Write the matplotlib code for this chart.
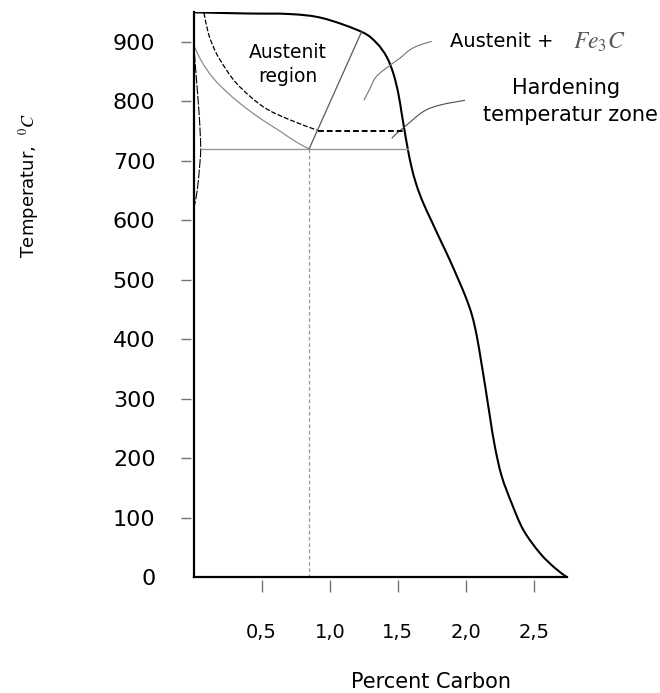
import matplotlib
matplotlib.use("Agg")
import matplotlib.pyplot as plt
from matplotlib.path import Path
from matplotlib.patches import PathPatch

plt.rcParams['font.family'] = ['DejaVu Sans']
plt.rcParams['mathtext.fontset'] = 'stix'

W, H = 660, 693

# outer boundary curve (percent carbon, temperature)
main_c = [0, 0.39, 0.71, 0.95, 1.235, 1.345, 1.418, 1.467, 1.503, 1.528, 1.550,
          1.573, 1.600, 1.636, 1.685, 1.745, 1.812, 1.880, 1.945, 2.000, 2.045,
          2.080, 2.110, 2.142, 2.176, 2.212, 2.262, 2.336, 2.422, 2.544, 2.654, 2.740]
main_t = [950, 948, 947, 940, 917, 898, 875, 847, 814, 780, 750,
          720, 690, 660, 630, 600, 567, 534, 500, 470, 440,
          405, 365, 320, 270, 220, 170, 124, 79, 40, 15, 0]

# A3 line (grey) down to eutectoid point
a3_c = [0.0, 0.06, 0.145, 0.267, 0.39, 0.512, 0.635, 0.745, 0.848]
a3_t = [895, 867, 839, 811, 788, 768, 750, 733, 720]

# upper dashed curve
dash_c = [0.076, 0.108, 0.145, 0.194, 0.317, 0.512, 0.708, 0.904]
dash_t = [949, 915, 892, 870, 830, 791, 769, 752]

# hardening temperature line
hard_c = [0.915, 1.553]
hard_t = [750, 750]

# A1 line and eutectoid lines
a1_c = [0.052, 1.573]
a1_t = [720, 720]
eut_c = [0.848, 1.235]
eut_t = [720, 918]
vert_c = [0.848, 0.848]
vert_t = [720, 0]

# small line close to the temperature axis
left_c = [0.0, 0.023, 0.042, 0.052, 0.042, 0.027, 0.01, 0.003]
left_t = [898, 831, 774, 721, 685, 651, 629, 622]

# leader lines of the labels
lead1_c = [1.251, 1.296, 1.342, 1.443, 1.516, 1.589, 1.662, 1.749]
lead1_t = [802, 822, 842, 861, 873, 887, 895, 901]
lead2_c = [1.455, 1.49, 1.553, 1.687, 1.81, 1.993]
lead2_t = [738, 746, 758, 783, 794, 802]

x_ticks = [0.5, 1.0, 1.5, 2.0, 2.5]
x_labels = ['0,5', '1,0', '1,5', '2,0', '2,5']
y_ticks = [0, 100, 200, 300, 400, 500, 600, 700, 800, 900]


def smooth(xs, ys):
    # bezier path through the read points (catmull-rom tangents)
    p = list(zip(xs, ys))
    verts = [p[0]]
    codes = [Path.MOVETO]
    for i in range(len(p) - 1):
        p0 = p[i - 1] if i > 0 else p[i]
        p1, p2 = p[i], p[i + 1]
        p3 = p[i + 2] if i + 2 < len(p) else p[i + 1]
        c1 = (p1[0] + (p2[0] - p0[0]) / 6, p1[1] + (p2[1] - p0[1]) / 6)
        c2 = (p2[0] - (p3[0] - p1[0]) / 6, p2[1] - (p3[1] - p1[1]) / 6)
        verts += [c1, c2, p2]
        codes += [Path.CURVE4] * 3
    return Path(verts, codes)


def curve(ax, xs, ys, **kw):
    ax.add_patch(PathPatch(smooth(xs, ys), fill=False, **kw))


fig = plt.figure(figsize=(W / 100, H / 100), dpi=100)
ax = fig.add_axes([193.6 / W, 1 - 577 / H, (566.7 - 193.6) / W, (577 - 12.3) / H])

curve(ax, main_c, main_t, edgecolor='black', lw=1.5)
curve(ax, a3_c, a3_t, edgecolor='0.55', lw=0.9)
curve(ax, dash_c, dash_t, edgecolor='black', lw=0.9, linestyle=(0, (4, 1.5)))
ax.plot(hard_c, hard_t, color='black', lw=1.4, dashes=(3, 1.5))
ax.plot(a1_c, a1_t, color='0.6', lw=1.0)
ax.plot(eut_c, eut_t, color='0.35', lw=0.9)
ax.plot(vert_c, vert_t, color='0.6', lw=0.9, dashes=(3, 2))
curve(ax, left_c, left_t, edgecolor='black', lw=0.8, linestyle=(0, (8, 1.5)))
curve(ax, lead1_c, lead1_t, edgecolor='0.45', lw=0.8)
curve(ax, lead2_c, lead2_t, edgecolor='0.3', lw=0.8)

# axis lines drawn at the data edge, ticks kept a few pixels away
ax.axvline(0, color='black', lw=1.6, clip_on=False)
ax.axhline(0, color='black', lw=1.6, clip_on=False)
for s in ['top', 'right']:
    ax.spines[s].set_visible(False)
for s in ['left', 'bottom']:
    ax.spines[s].set_position(('outward', 2.2))
    ax.spines[s].set_visible(False)

ax.set_xlim(0, 2.74)
ax.set_ylim(0, 950)
ax.set_xticks(x_ticks)
ax.set_xticklabels(x_labels)
ax.set_yticks(y_ticks)
ax.tick_params(axis='x', direction='out', length=8.6, width=1, color='0.45',
               pad=22, labelsize=14)
ax.tick_params(axis='y', direction='out', length=7.2, width=1, color='0.45',
               pad=18, labelsize=16)
ax.yaxis.get_major_ticks()[0].tick1line.set_visible(False)


def ftext(px, py, s, **kw):
    fig.text(px / W, 1 - py / H, s, **kw)


ftext(288, 53, 'Austenit', ha='center', va='center', fontsize=13.5)
ftext(288, 76, 'region', ha='center', va='center', fontsize=13.5)
ftext(450, 41.7, 'Austenit +', ha='left', va='center', fontsize=14)
ftext(573, 41.7, r'$Fe_3C$', ha='left', va='center', fontsize=17, color='0.35')
ftext(566, 88, 'Hardening', ha='center', va='center', fontsize=15)
ftext(570, 115, 'temperatur zone', ha='center', va='center', fontsize=15)
ftext(430.7, 681.7, 'Percent Carbon', ha='center', va='center', fontsize=15)
ftext(29, 185, r'Temperatur,  $^0C$', ha='center', va='center', fontsize=13,
      rotation=90)

fig.savefig('out.png', dpi=100)
